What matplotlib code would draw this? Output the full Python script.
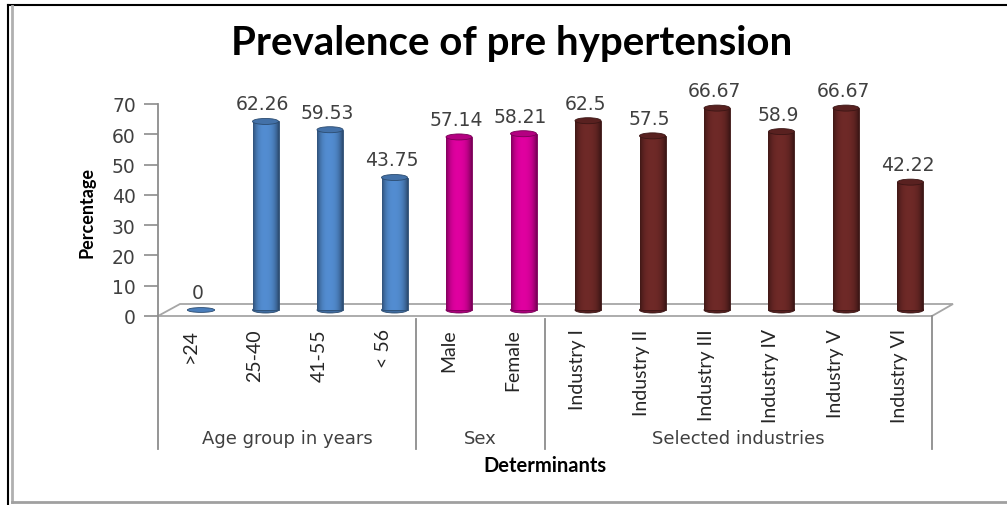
import numpy as np
import matplotlib
matplotlib.use("Agg")
import matplotlib.pyplot as plt
from matplotlib.patches import Ellipse, Polygon
from matplotlib.lines import Line2D
import matplotlib.colors as mcolors
import matplotlib.transforms as mtrans

# ---------------- data ----------------
categories = [">24", "25-40", "41-55", "< 56", "Male", "Female",
              "Industry I", "Industry II", "Industry III", "Industry IV",
              "Industry V", "Industry VI"]
values = [0, 62.26, 59.53, 43.75, 57.14, 58.21, 62.5, 57.5, 66.67, 58.9, 66.67, 42.22]
value_labels = ["0", "62.26", "59.53", "43.75", "57.14", "58.21", "62.5", "57.5",
                "66.67", "58.9", "66.67", "42.22"]
groups = ["Age group in years", "Sex", "Selected industries"]
group_sizes = [4, 2, 6]
group_colors = ["#4A7EBB", "#C8008F", "#632523"]
yticks = [0, 10, 20, 30, 40, 50, 60, 70]

W, H = 1007, 506
fig = plt.figure(figsize=(W / 100, H / 100), dpi=100)

# axes placement (pixels)
ax_l, ax_r, ax_b, ax_t = 158, 932, 317, 105
ax = fig.add_axes([ax_l / W, 1 - ax_b / H, (ax_r - ax_l) / W, (ax_b - ax_t) / H])
ax.set_xlim(-0.5, 11.5)
ax.set_ylim(0, 70)
for s in ax.spines.values():
    s.set_visible(False)
ax.set_xticks([])
ax.set_yticks(yticks)
ax.tick_params(axis="y", length=10, width=1.2, color="#8C8C8C", pad=6,
               labelsize=13.5, labelcolor="#404040")
for lab in ax.get_yticklabels():
    lab.set_fontfamily("DejaVu Sans")

px_x = 12 / 774  # data units per pixel in x
px_y = 70 / 212  # data units per pixel in y
gray = "#8C8C8C"

# left axis line (extends down into label area)
trans_xa = mtrans.blended_transform_factory(ax.transData, ax.transAxes)
ax.plot([-0.5, -0.5], [1.0, -0.627], transform=trans_xa, color=gray, lw=1.3, clip_on=False)

# floor parallelogram (3D)
dy_back = 12 * px_y
floor = Polygon([[-0.5, 0], [11.5, 0], [11.5 + 21 * px_x, dy_back], [-0.5 + 22 * px_x, dy_back]],
                closed=True, facecolor="none", edgecolor="#A6A6A6", lw=1.3, clip_on=False, zorder=1)
ax.add_patch(floor)

# group separators and right edge in label area
bounds = np.cumsum([0] + group_sizes) - 0.5
for b in bounds[1:]:
    top = 0.0 if b == bounds[-1] else -0.012
    ax.plot([b, b], [top, -0.627], transform=trans_xa, color=gray, lw=1.3, clip_on=False)

# colors per bar
bar_colors = []
for c, n in zip(group_colors, group_sizes):
    bar_colors += [c] * n

bar_offset_x = 10.75 * px_x
bar_base = 6 * px_y
bw = 26 * px_x
ell_h = 6 * px_y

def shade(color):
    base = np.array(mcolors.to_rgb(color))
    t = np.linspace(-1, 1, 64)
    f = 1.0 + 0.12 * np.cos(np.clip((t + 0.15) * 1.4, -np.pi / 2, np.pi / 2)) - 0.40 * (np.abs(t) ** 3)
    arr = np.clip(base[None, :] * f[:, None], 0, 1)
    return arr[None, :, :]

xs = np.arange(len(values)) + bar_offset_x
for x, v, c, lbl in zip(xs, values, bar_colors, value_labels):
    dark = tuple(np.array(mcolors.to_rgb(c)) * 0.6)
    if v > 0:
        bars = ax.bar(x, v, width=bw, bottom=bar_base, color=c, edgecolor=dark, lw=0.6, zorder=3)
        rect = bars[0]
        im = ax.imshow(shade(c), extent=[x - bw / 2, x + bw / 2, bar_base, bar_base + v],
                       aspect="auto", zorder=3.5, interpolation="bilinear")
        im.set_clip_path(rect)
        ax.add_patch(Ellipse((x, bar_base), bw, ell_h, facecolor=tuple(np.array(mcolors.to_rgb(c)) * 0.85),
                             edgecolor=dark, lw=0.6, zorder=2.9))
        ax.add_patch(Ellipse((x, bar_base + v), bw, ell_h, facecolor=tuple(np.array(mcolors.to_rgb(c)) * 0.9),
                             edgecolor=dark, lw=0.6, zorder=4, clip_on=False))
        top = bar_base + v
    else:
        ax.add_patch(Ellipse((x, bar_base), bw * 1.05, ell_h * 0.8, facecolor=c,
                             edgecolor=dark, lw=0.6, zorder=4))
        top = bar_base
    ax.text(x - 3 * px_x, top + 8 * px_y, lbl, ha="center", va="bottom", fontsize=13.5,
            color="#404040", family="DejaVu Sans", clip_on=False)

ax.set_xlim(-0.5, 11.5)
ax.set_ylim(0, 70)

# category labels (rotated)
for i, cat in enumerate(categories):
    ax.text(i, -0.058, cat, transform=trans_xa, rotation=90, ha="center", va="top",
            fontsize=14, family="Lato", color="#262626")

# group labels
start = 0
for g, n in zip(groups, group_sizes):
    center = start + (n - 1) / 2
    ax.text(center, -0.575, g, transform=trans_xa, ha="center", va="center",
            fontsize=13, family="DejaVu Sans", color="#404040")
    start += n

# axis titles
fig.text(545 / W, 1 - 466 / H, "Determinants", ha="center", va="center",
         fontsize=14.5, fontweight="bold", family="Lato", color="black")
fig.text(87 / W, 1 - 212 / H, "Percentage", ha="center", va="center", rotation=90,
         fontsize=13, fontweight="bold", family="Lato", color="black")

# title
fig.text(512 / W, 1 - 44 / H, "Prevalence of pre hypertension", ha="center", va="center",
         fontsize=29, fontweight="bold", family="Lato", color="black")

# outer frame
fig.add_artist(Line2D([8 / W, 1.0], [1 - 6 / H, 1 - 6 / H], transform=fig.transFigure, color="black", lw=1.5))
fig.add_artist(Line2D([8 / W, 8 / W], [1 - 6 / H, 0], transform=fig.transFigure, color="black", lw=1.5))
fig.add_artist(Line2D([12 / W, 12 / W], [1 - 7 / H, 1 - 503 / H], transform=fig.transFigure, color="#B0B0B0", lw=2))
fig.add_artist(Line2D([12 / W, 1.0], [1 - 503 / H, 1 - 503 / H], transform=fig.transFigure, color="#A0A0A0", lw=2))

fig.savefig("out.png", dpi=100)
